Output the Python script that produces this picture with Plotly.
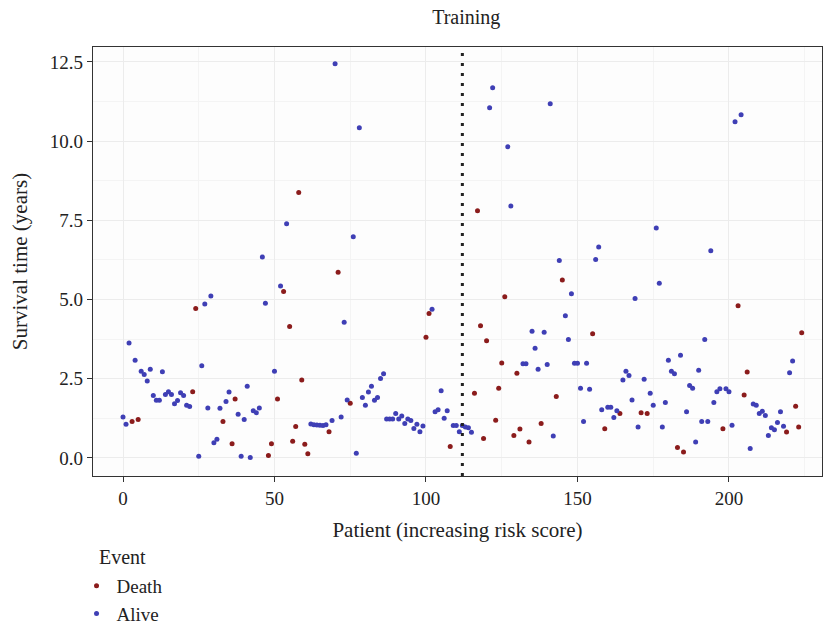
import plotly.graph_objects as go

# Survival time (years) per patient, ordered by increasing risk score
survival_years = [
    1.29, 1.06, 3.63, 1.15, 3.08, 1.21, 2.74, 2.63, 2.43, 2.80,
    1.97, 1.82, 1.82, 2.72, 2.00, 2.09, 2.00, 1.71, 1.81, 2.06,
    1.97, 1.66, 1.62, 2.09, 4.72, 0.05, 2.91, 4.86, 1.58, 5.11,
    0.48, 0.59, 1.57, 1.15, 1.78, 2.08, 0.45, 1.86, 1.38, 0.05,
    1.21, 2.26, 0.01, 1.49, 1.43, 1.58, 6.34, 4.88, 0.08, 0.45,
    2.74, 1.86, 5.43, 5.25, 7.39, 4.15, 0.53, 0.99, 8.38, 2.46,
    0.43, 0.13, 1.07, 1.05, 1.04, 1.03, 1.02, 1.05, 0.83, 1.18,
    12.44, 5.86, 1.29, 4.28, 1.83, 1.73, 6.98, 0.15, 10.42, 1.91,
    1.66, 2.08, 2.26, 1.82, 1.91, 2.51, 2.66, 1.23, 1.23, 1.23,
    1.40, 1.23, 1.32, 1.09, 1.23, 1.18, 0.93, 1.06, 0.83, 1.01,
    3.81, 4.56, 4.69, 1.46, 1.52, 2.12, 1.25, 1.49, 0.36, 1.02,
    1.02, 0.83, 1.02, 0.98, 0.95, 0.81, 2.04, 7.80, 4.17, 0.61,
    3.70, 11.05, 11.68, 1.19, 2.20, 3.00, 5.09, 9.82, 7.95, 0.71,
    2.67, 0.91, 2.97, 2.97, 0.50, 4.00, 3.46, 2.80, 1.09, 3.97,
    2.95, 11.18, 0.69, 1.94, 6.23, 5.62, 4.49, 3.74, 5.18, 2.99,
    2.99, 2.20, 1.15, 2.99, 2.17, 3.92, 6.26, 6.66, 1.52, 0.92,
    1.60, 1.60, 1.28, 1.49, 1.40, 2.46, 2.74, 2.60, 1.83, 5.03,
    0.98, 1.43, 2.48, 1.40, 2.04, 1.66, 7.26, 5.51, 0.98, 1.75,
    3.08, 2.74, 2.66, 0.33, 3.24, 0.19, 1.46, 2.29, 2.20, 0.50,
    2.77, 1.15, 3.74, 1.15, 6.54, 1.75, 2.09, 2.18, 0.92, 2.18,
    2.09, 1.03, 10.61, 4.80, 10.83, 1.99, 2.71, 0.30, 1.70, 1.66,
    1.40, 1.47, 1.34, 0.71, 0.95, 0.89, 1.12, 1.46, 1.00, 0.82,
    2.69, 3.06, 1.63, 0.98, 3.95,
]

# Event per patient: "D" = Death, "A" = Alive
events = (
    "AAADADAAAA" "AAAAAAAAAA" "AAADDAAAAA" "AAADAADDAA" "AAAAAAAADD"
    "ADADADDDDD" "DDAAAAAADA" "ADAAADAAAA" "AAAAAAAAAA" "AAAAAAAAAA"
    "DDAAAAAADA" "AAAAAADDDD" "DAADDDDAAD" "DDAADAAADA" "AAADADAAAA"
    "AAAAADAAAD" "AAAADAAAAA" "ADADAAAAAA" "AAADADAAAA" "AAAAAAAADA"
    "AAADADDAAA" "AAAAAAAAAD" "AADDD"
)

cutoff_index = 112
x_ticks = [0, 50, 100, 150, 200]
y_ticks = [0.0, 2.5, 5.0, 7.5, 10.0, 12.5]

groups = [("Death", "D", "#8B1C1C"), ("Alive", "A", "#3F3FB5")]

fig = go.Figure()
for name, code, color in groups:
    xs = [i for i, e in enumerate(events) if e == code]
    ys = [survival_years[i] for i in xs]
    fig.add_trace(go.Scatter(
        x=xs, y=ys, mode="markers", name=name,
        marker=dict(color=color, size=5),
    ))

fig.add_shape(
    type="line", x0=cutoff_index, x1=cutoff_index, xref="x",
    y0=0, y1=1, yref="paper",
    line=dict(color="#222222", width=3, dash="3px,7px"),
)

font_family = "Liberation Serif"
text_color = "#222222"

# Legend title drawn as an annotation so it can sit left of the legend symbols
fig.add_annotation(
    text="Event", xref="paper", yref="paper",
    x=(97 - 93) / 729, y=(476 - 557) / 429,
    xanchor="left", yanchor="middle", showarrow=False,
    font=dict(family=font_family, size=20, color=text_color),
)

fig.update_layout(
    width=829, height=631,
    margin=dict(l=93, r=7, t=47, b=155, autoexpand=False),
    paper_bgcolor="white",
    plot_bgcolor="#FDFDFD",
    font=dict(family=font_family, size=19, color=text_color),
    title=dict(text="Training", x=0.512, xref="paper", xanchor="center",
               y=1, yref="container", yanchor="top", pad=dict(t=10),
               font=dict(size=20, family=font_family, color=text_color)),
    showlegend=True,
    legend=dict(
        orientation="v",
        x=-0.0226, xref="paper", xanchor="left",
        y=-0.212, yref="paper", yanchor="top",
        font=dict(size=19), itemwidth=30,
        bgcolor="rgba(0,0,0,0)",
    ),
    xaxis=dict(
        range=[-9.9, 230.7], tickvals=x_ticks,
        tickfont=dict(size=19),
        title=dict(text="Patient (increasing risk score)", standoff=14,
                   font=dict(size=21)),
        showgrid=True, gridcolor="#ECECEC", gridwidth=1,
        minor=dict(dtick=25, tick0=25, showgrid=True, gridcolor="#F4F4F4", gridwidth=1),
        showline=True, linecolor="#333333", linewidth=1.2, mirror=True,
        ticks="outside", ticklen=5, tickcolor="#333333",
        zeroline=False,
    ),
    yaxis=dict(
        range=[-0.57, 12.97], tickvals=y_ticks, tickformat=".1f",
        tickfont=dict(size=19),
        title=dict(text="Survival time (years)", standoff=16,
                   font=dict(size=21)),
        showgrid=True, gridcolor="#ECECEC", gridwidth=1,
        minor=dict(dtick=2.5, tick0=1.25, showgrid=True, gridcolor="#F4F4F4", gridwidth=1),
        showline=True, linecolor="#333333", linewidth=1.2, mirror=True,
        ticks="outside", ticklen=5, tickcolor="#333333",
        zeroline=False,
    ),
)

fig.write_html("out.html")
